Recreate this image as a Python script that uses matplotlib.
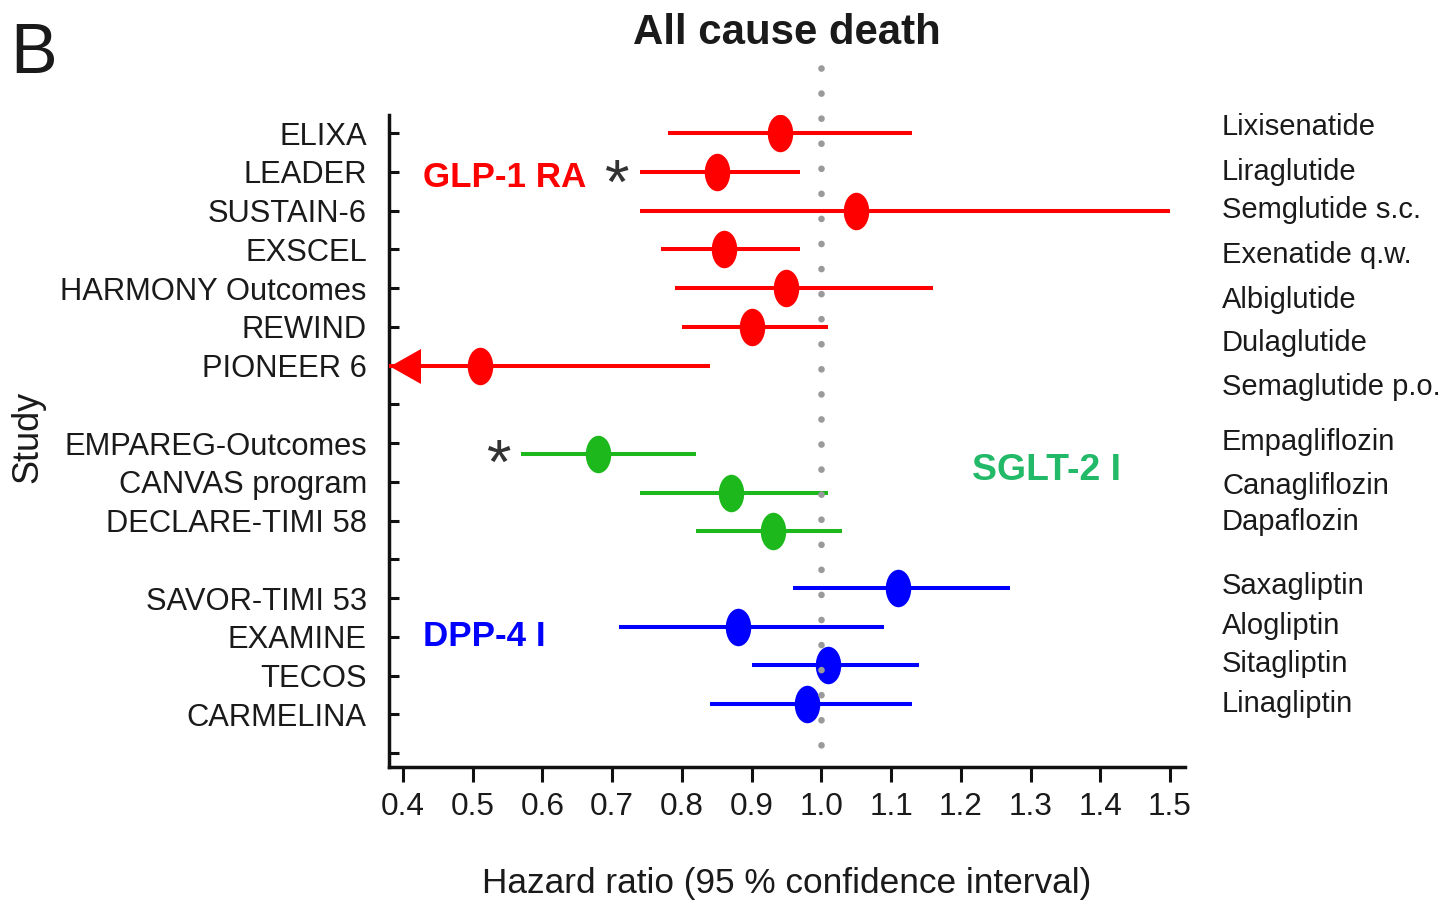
import matplotlib
matplotlib.use("Agg")
import matplotlib.pyplot as plt
from matplotlib import font_manager as fm
from matplotlib.path import Path
from matplotlib.transforms import Affine2D, blended_transform_factory, offset_copy

# ---------------- data ----------------
glp_studies = ["ELIXA", "LEADER", "SUSTAIN-6", "EXSCEL", "HARMONY Outcomes", "REWIND", "PIONEER 6"]
glp_drugs = ["Lixisenatide", "Liraglutide", "Semglutide s.c.", "Exenatide q.w.",
             "Albiglutide", "Dulaglutide", "Semaglutide p.o."]
glp_hr = [0.94, 0.85, 1.05, 0.86, 0.95, 0.90, 0.51]
glp_lo = [0.78, 0.74, 0.74, 0.77, 0.79, 0.80, 0.31]
glp_hi = [1.13, 0.97, 1.50, 0.97, 1.16, 1.01, 0.84]
glp_rows = [0, 1, 2, 3, 4, 5, 6]

sglt_studies = ["EMPAREG-Outcomes", "CANVAS program", "DECLARE-TIMI 58"]
sglt_drugs = ["Empagliflozin", "Canagliflozin", "Dapaflozin"]
sglt_hr = [0.68, 0.87, 0.93]
sglt_lo = [0.57, 0.74, 0.82]
sglt_hi = [0.82, 1.01, 1.03]
sglt_rows = [8, 9, 10]
sglt_mark_rows = [8.28, 9.3, 10.28]

dpp_studies = ["SAVOR-TIMI 53", "EXAMINE", "TECOS", "CARMELINA"]
dpp_drugs = ["Saxagliptin", "Alogliptin", "Sitagliptin", "Linagliptin"]
dpp_hr = [1.11, 0.88, 1.01, 0.98]
dpp_lo = [0.96, 0.71, 0.90, 0.84]
dpp_hi = [1.27, 1.09, 1.14, 1.13]
dpp_rows = [12, 13, 14, 15]
dpp_mark_rows = [11.73, 12.74, 13.72, 14.73]

drug_rows = [-0.16, 1.01, 1.99, 3.15, 4.32, 5.43, 6.56,
             7.98, 9.10, 10.05, 11.68, 12.71, 13.70, 14.73]

x_ticks = [0.4, 0.5, 0.6, 0.7, 0.8, 0.9, 1.0, 1.1, 1.2, 1.3, 1.4, 1.5]
n_rows = 17

# ---------------- style ----------------
names = {f.name for f in fm.fontManager.ttflist}
if "Liberation Sans Narrow" in names:
    FONT = ["Liberation Sans Narrow", "DejaVu Sans"]
    k = 1.0
else:
    FONT = ["Liberation Sans", "DejaVu Sans"]
    k = 0.84
plt.rcParams["font.family"] = FONT

RED = "#ff0000"
GREEN = "#1cb81c"
GREEN_TXT = "#22b968"
BLUE = "#0000ff"
TXT = "#1a1a1a"

W, H = 1441, 907
fig = plt.figure(figsize=(W / 100, H / 100), dpi=100)
L, R, T, B = 389, 1185, 115, 767
ax = fig.add_axes([L / W, 1 - B / H, (R - L) / W, (B - T) / H])

XMIN, XMAX = 0.380, 1.5215
ax.set_xlim(XMIN, XMAX)
ax.set_ylim(16.36, -0.465)

# ellipse marker (taller than wide)
ell = Affine2D().scale(0.68, 1.0).transform_path(Path.unit_circle())
ms = 27.0
lw_ci = 2.9

def draw_group(hr, lo, hi, rows, color):
    for h, a, b, r in zip(hr, lo, hi, rows):
        ax.plot([a, b], [r, r], color=color, lw=lw_ci, solid_capstyle="butt", zorder=3)
        ax.plot([h], [r], marker=ell, ms=ms, color=color, mec=color, mew=0, ls="none", zorder=4)

draw_group(glp_hr, glp_lo, glp_hi, glp_rows, RED)
draw_group(sglt_hr, sglt_lo, sglt_hi, sglt_mark_rows, GREEN)
draw_group(dpp_hr, dpp_lo, dpp_hi, dpp_mark_rows, BLUE)

# arrow for truncated lower CI (PIONEER 6)
tri = Path([(-0.886, 0), (0.886, -1), (0.886, 1), (-0.886, 0)],
           [Path.MOVETO, Path.LINETO, Path.LINETO, Path.CLOSEPOLY])
for a, r in zip(glp_lo, glp_rows):
    if a < XMIN:
        tr = offset_copy(ax.transData, fig=fig, x=15.5, y=0, units="dots")
        ax.plot([XMIN], [r], marker=tri, ms=25.2, color=RED, mew=0, ls="none",
                transform=tr, clip_on=False, zorder=5)

# reference line at 1.0
ax.plot([1.0, 1.0], [-1.68, 15.85], color="#9a9a9a", lw=4.8,
        ls=(0, (0.01, 3.75)), dash_capstyle="round", clip_on=False, zorder=6)

# axes styling
for s in ["top", "right"]:
    ax.spines[s].set_visible(False)
for s in ["left", "bottom"]:
    ax.spines[s].set_linewidth(2.5)
    ax.spines[s].set_color("#111111")

ax.set_xticks(x_ticks)
ax.set_xticklabels([f"{v:.1f}" for v in x_ticks])
ax.tick_params(axis="x", direction="out", length=11, width=2.2, pad=7,
               labelsize=27 * k, colors="#111111", labelcolor=TXT)

ylabels = [""] * n_rows
for r, s in zip(glp_rows, glp_studies):
    ylabels[r] = s
for r, s in zip(sglt_rows, sglt_studies):
    ylabels[r] = s
for r, s in zip(dpp_rows, dpp_studies):
    ylabels[r] = s
ax.set_yticks(range(n_rows))
ax.set_yticklabels(ylabels)
ax.tick_params(axis="y", direction="in", length=7, width=2.2, pad=16,
               labelsize=26.5 * k, colors="#111111", labelcolor=TXT)

# right-hand drug names
bt = blended_transform_factory(ax.transAxes, ax.transData)
for r, d in zip(drug_rows, glp_drugs + sglt_drugs + dpp_drugs):
    ax.text((1222 - L) / (R - L), r, d, transform=bt, ha="left", va="center",
            fontsize=25 * k, color=TXT, clip_on=False)

# group labels
ax.text(0.429, 1.14, "GLP-1 RA", color=RED, fontsize=30 * k, fontweight="bold",
        ha="left", va="center")
ax.text(0.429, 13.0, "DPP-4 I", color=BLUE, fontsize=30 * k, fontweight="bold",
        ha="left", va="center")
ax.text(1.216, 8.70, "SGLT-2 I", color=GREEN_TXT, fontsize=32 * k, fontweight="bold",
        ha="left", va="center")

# significance asterisks
ax.text(0.7056, 1.22, "*", color="#333333", fontsize=54 * k, ha="center",
        va="center_baseline", family=["Liberation Sans", "DejaVu Sans"])
ax.text(0.537, 8.43, "*", color="#333333", fontsize=54 * k, ha="center",
        va="center_baseline", family=["Liberation Sans", "DejaVu Sans"])

# axis labels and titles
ax.set_xlabel("Hazard ratio (95 % confidence interval)", fontsize=30.2 * k, color=TXT, va="center")
ax.xaxis.set_label_coords(0.5, (B - 883) / (B - T))
ax.set_ylabel("Study", fontsize=31 * k, color=TXT, va="center")
ax.yaxis.set_label_coords((28 - L) / (R - L), (B - 437) / (B - T))

fig.text(787 / W, 1 - 33 / H, "All cause death", fontsize=36 * k, fontweight="bold",
         ha="center", va="center", color=TXT)
fig.text(10 / W, 1 - 55 / H, "B", fontsize=60 * k, ha="left", va="center", color=TXT)

fig.savefig("out.png", dpi=100)
